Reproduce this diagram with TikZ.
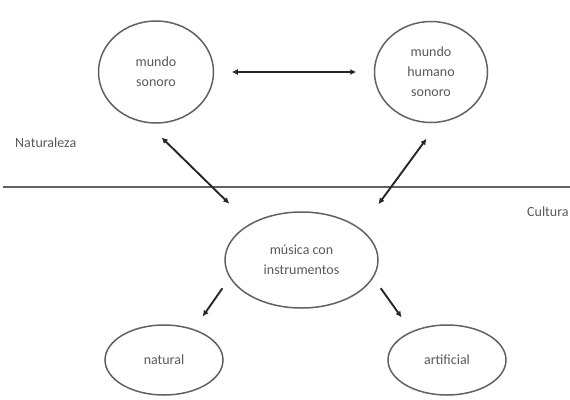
\documentclass[tikz,border=0pt]{standalone}
\usepackage{fontspec}
\setmainfont{Carlito}
\usetikzlibrary{shapes.geometric,arrows.meta}
\tikzset{
  bub/.style={ellipse, draw=black!62, line width=1.5pt, inner sep=0pt, align=center,
    text=black!65, font=\fontsize{14}{20}\selectfont},
  conn/.style={draw=black!85, line width=1.9pt, {Latex[length=6pt,width=6pt]}-{Latex[length=6pt,width=6pt]}},
  oneway/.style={draw=black!85, line width=1.9pt, -{Latex[length=6pt,width=6pt]}},
  lab/.style={text=black!65, font=\fontsize{14}{20}\selectfont, inner sep=0pt}
}
\begin{document}
\begin{tikzpicture}[x=1pt,y=-1pt]
\useasboundingbox (0,0) rectangle (570,399);
\node[bub, minimum width=115pt, minimum height=102pt] (A) at (156,72) {mundo\\sonoro};
\node[bub, minimum width=113pt, minimum height=101pt] (B) at (431,72) {mundo\\humano\\sonoro};
\node[bub, minimum width=153pt, minimum height=96pt] (C) at (301.5,260) {música con\\instrumentos};
\node[bub, minimum width=118pt, minimum height=70pt] (D) at (164,360) {natural};
\node[bub, minimum width=118pt, minimum height=70pt] (E) at (447,360) {artificial};
\coordinate (L0) at (3,187);
\coordinate (L1) at (570,187);
\draw[draw=black!62, line width=2pt] (L0) -- (L1);
\node[lab, anchor=west] (nat) at (15,143) {Naturaleza};
\node[lab, anchor=west] (cul) at (527,212) {Cultura};
\draw[conn, shorten <=17.5pt, shorten >=17.5pt] (A.east) -- (B.west);
\draw[conn, shorten <=20.5pt, shorten >=28.7pt] (A.-100) -- (C.145);
\draw[conn, shorten <=19.7pt, shorten >=30.3pt] (B.-82.4) -- (C.28.9);
\draw[oneway, shorten <=12.7pt, shorten >=15.3pt] (C.-166) -- (D.46.5);
\draw[oneway, shorten <=12.7pt, shorten >=17.1pt] (C.-14) -- (E.141);
\end{tikzpicture}
\end{document}
